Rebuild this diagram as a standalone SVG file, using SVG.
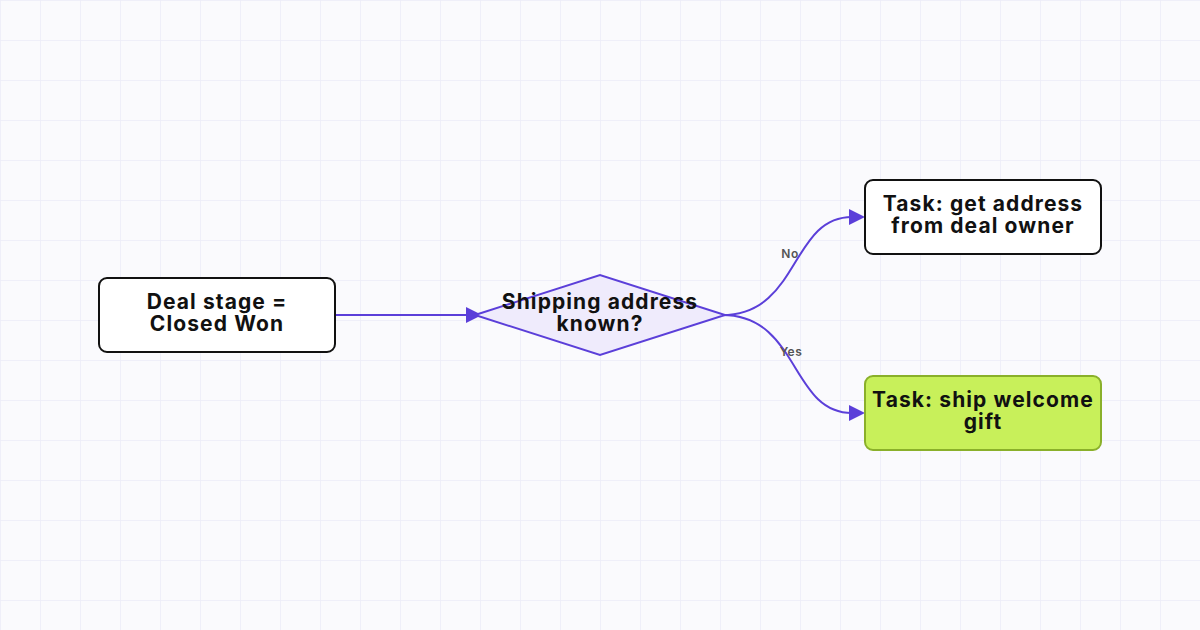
<svg xmlns="http://www.w3.org/2000/svg" width="1200" height="630" viewBox="0 0 1200 630">
<defs>
<pattern id="grid" width="40" height="40" patternUnits="userSpaceOnUse"><path d="M0 0H40M0 0V40" fill="none" stroke="#ececf8" stroke-width="1.5"/></pattern>
</defs>
<style>
.n{stroke:#111;stroke-width:2;fill:#fff}
.t{font-family:Inter,"Liberation Sans",sans-serif;font-weight:700;font-size:21px;letter-spacing:1.1px;fill:#111;text-anchor:middle}
.e{fill:none;stroke:#5b3fd9;stroke-width:2}
.a{fill:#5b3fd9}
.l{font-family:Inter,"Liberation Sans",sans-serif;font-weight:600;font-size:12px;letter-spacing:0.5px;fill:#555;text-anchor:middle}
</style>
<rect width="1200" height="630" fill="#fafafd"/>
<rect width="1200" height="630" fill="url(#grid)"/>
<g id="edges">
<path class="e" d="M335 315H470"/>
<path class="a" d="M466 307L482 315L466 323z"/>
<path class="e" d="M722 315C800 315 790 217 852 217"/>
<path class="a" d="M849 209L865 217L849 225z"/>
<path class="e" d="M722 315C800 315 790 413 852 413"/>
<path class="a" d="M849 405L865 413L849 421z"/>
<text class="l" x="790" y="258">No</text>
<text class="l" x="791" y="356">Yes</text>
</g>
<g id="start"><rect class="n" x="99" y="278" width="236" height="74" rx="8"/><text class="t" x="217" y="309">Deal stage =</text><text class="t" x="217" y="331">Closed Won</text></g>
<g id="decision"><path d="M475 315L600 275L725 315L600 355z" fill="#efebfc" stroke="#5b3fd9" stroke-width="2"/><text class="t" x="600" y="309">Shipping address</text><text class="t" x="600" y="331">known?</text></g>
<g id="getaddr"><rect class="n" x="865" y="180" width="236" height="74" rx="8"/><text class="t" x="983" y="211">Task: get address</text><text class="t" x="983" y="233">from deal owner</text></g>
<g id="ship"><rect x="865" y="376" width="236" height="74" rx="8" fill="#c8f05a" stroke="#8ab02a" stroke-width="2"/><text class="t" x="983" y="407">Task: ship welcome</text><text class="t" x="983" y="429">gift</text></g>
</svg>
